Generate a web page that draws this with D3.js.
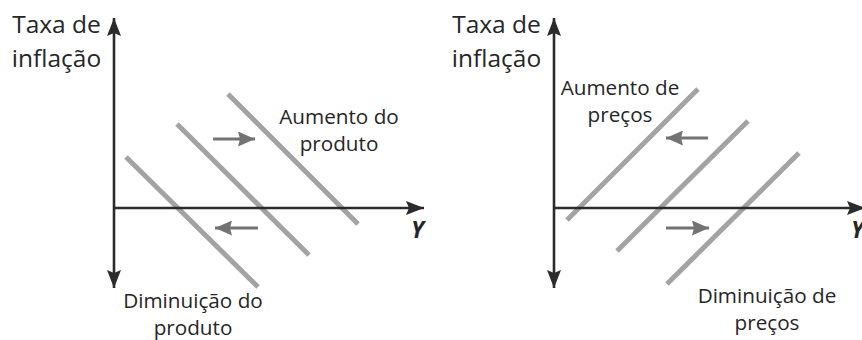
<!DOCTYPE html>
<html>
<head>
<meta charset="utf-8">
<script src="https://cdn.jsdelivr.net/npm/d3@7"></script>
<style>
  html, body { margin: 0; padding: 0; background: #fff; }
  svg { display: block; }
  text { font-family: "Open Sans", "Noto Sans", sans-serif; fill: #262626; }
</style>
</head>
<body>
<svg id="chart" width="862" height="340"></svg>
<script>
// ---------- data (in abstract curve units) ----------
const axisYLabel = ["Taxa de", "inflação"];
const axisXLabel = "Y";

// Left panel: downward-sloping curves (output shifts)
const leftCurves = [
  [[1.2, 5.1], [14.4, -7.9]],
  [[6.3, 8.4], [19.5, -4.7]],
  [[11.4, 11.4], [24.4, -1.6]]
];
const leftShifts = [
  [[9.9, 6.9], [14.3, 6.9]],
  [[14.4, -2.0], [9.9, -2.0]]
];
const leftNotes = [
  { lines: ["Aumento do", "produto"], at: [22.5, 8.4] },
  { lines: ["Diminuição do", "produto"], at: [7.9, -10.0] }
];

// Right panel: upward-sloping curves (price shifts)
const rightCurves = [
  [[1.3, -1.2], [14.4, 11.9]],
  [[6.3, -4.3], [19.4, 8.7]],
  [[11.3, -7.6], [24.5, 5.5]]
];
const rightShifts = [
  [[15.4, 7.0], [11.0, 7.0]],
  [[11.2, -2.0], [15.7, -2.0]]
];
const rightNotes = [
  { lines: ["Aumento de", "preços"], at: [6.6, 11.3] },
  { lines: ["Diminuição de", "preços"], at: [21.3, -9.5] }
];

const panels = [
  { ox: 114, xMax: 31.0, curves: leftCurves, shifts: leftShifts, notes: leftNotes },
  { ox: 554, xMax: 31.1, curves: rightCurves, shifts: rightShifts, notes: rightNotes }
];

// ---------- drawing ----------
const svg = d3.select("#chart");
const defs = svg.append("defs");

function addMarker(id, color, len, half, notch) {
  defs.append("marker")
    .attr("id", id)
    .attr("markerUnits", "userSpaceOnUse")
    .attr("viewBox", `${-len} ${-half} ${len} ${half * 2}`)
    .attr("refX", 0).attr("refY", 0)
    .attr("markerWidth", len).attr("markerHeight", half * 2)
    .attr("orient", "auto-start-reverse")
    .append("path")
    .attr("d", `M0,0 L${-len},${-half} L${-len + notch},0 L${-len},${half} Z`)
    .attr("fill", color);
}
addMarker("axisHead", "#2b2b2b", 18, 7, 3);
addMarker("shiftHead", "#737373", 17, 7.5, 2);

const line = d3.line();

panels.forEach(p => {
  const x = d3.scaleLinear().domain([0, 10]).range([p.ox, p.ox + 100]);
  const y = d3.scaleLinear().domain([0, 10]).range([208, 108]);
  const g = svg.append("g");

  // curves
  g.selectAll("path.curve").data(p.curves).join("path")
    .attr("class", "curve")
    .attr("d", d => line(d.map(([a, b]) => [x(a), y(b)])))
    .attr("stroke", "#a3a3a3").attr("stroke-width", 5)
    .attr("fill", "none");

  // axes
  g.append("path")
    .attr("d", line([[x(0), y(-8.0)], [x(0), y(19.0)]]))
    .attr("stroke", "#2b2b2b").attr("stroke-width", 2.6).attr("fill", "none")
    .attr("marker-start", "url(#axisHead)")
    .attr("marker-end", "url(#axisHead)");
  g.append("path")
    .attr("d", line([[x(0), y(0)], [x(p.xMax), y(0)]]))
    .attr("stroke", "#2b2b2b").attr("stroke-width", 2.6).attr("fill", "none")
    .attr("marker-end", "url(#axisHead)");

  // shift arrows
  g.selectAll("path.shift").data(p.shifts).join("path")
    .attr("class", "shift")
    .attr("d", d => {
      const [s, e] = d;
      const dir = Math.sign(e[0] - s[0]);
      return line([[x(s[0]), y(s[1])], [x(e[0]) - dir * 2, y(e[1])]]);
    })
    .attr("stroke", "#737373").attr("stroke-width", 3).attr("fill", "none")
    .attr("marker-end", "url(#shiftHead)");

  // y-axis label
  g.append("text")
    .attr("text-anchor", "middle")
    .attr("font-size", 24.5)
    .selectAll("tspan").data(axisYLabel).join("tspan")
    .attr("x", x(-5.75))
    .attr("y", (d, i) => y(17.5) + i * 34)
    .text(d => d);

  // x-axis label
  g.append("text")
    .attr("x", x(29.7)).attr("y", y(-3.0))
    .attr("font-size", 23)
    .attr("font-weight", "bold")
    .attr("font-style", "italic")
    .text(axisXLabel);

  // notes
  p.notes.forEach(n => {
    g.append("text")
      .attr("text-anchor", "middle")
      .attr("font-size", 20.7)
      .selectAll("tspan").data(n.lines).join("tspan")
      .attr("x", x(n.at[0]))
      .attr("y", (d, i) => y(n.at[1]) + i * 27)
      .text(d => d);
  });
});
</script>
</body>
</html>
